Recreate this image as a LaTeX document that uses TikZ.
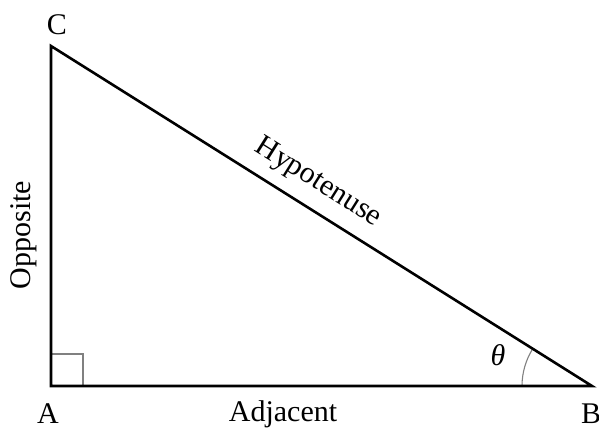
\documentclass[tikz,border=0pt]{standalone}
\usepackage{fontspec}
\setmainfont{Liberation Serif}
\usetikzlibrary{calc}
\begin{document}
\begin{tikzpicture}[x=1pt,y=-1pt,
  side/.style={line width=2.6pt,line cap=round,line join=miter},
  thin gray/.style={line width=1.1pt,draw=gray},
  lbl/.style={font=\fontsize{30}{33}\selectfont,inner sep=0pt}]
\useasboundingbox (0,0) rectangle (599,432);
\coordinate (A) at (51,386);
\coordinate (B) at (592,386);
\coordinate (C) at (51,46);
\draw[thin gray] (51,354) -- (83,354) -- (83,386);
\draw[thin gray] ($(B)+(180:70)$) arc[start angle=180,end angle=212.1,radius=70];
\draw[side] (A) -- (B) -- (C) -- cycle;
\node[lbl] (lc) at (57,25) {C};
\node[lbl] (la) at (48,414) {A};
\node[lbl] (lb) at (591,414) {B};
\node[lbl] (adj) at (283,414) {Adjacent};
\node[lbl,rotate=90] (opp) at (24,235) {Opposite};
\node[lbl,rotate=-32.1] (hyp) at (318,183) {Hypotenuse};
\node[lbl] (th) at (498,355) {\textit{θ}};
\end{tikzpicture}
\end{document}
